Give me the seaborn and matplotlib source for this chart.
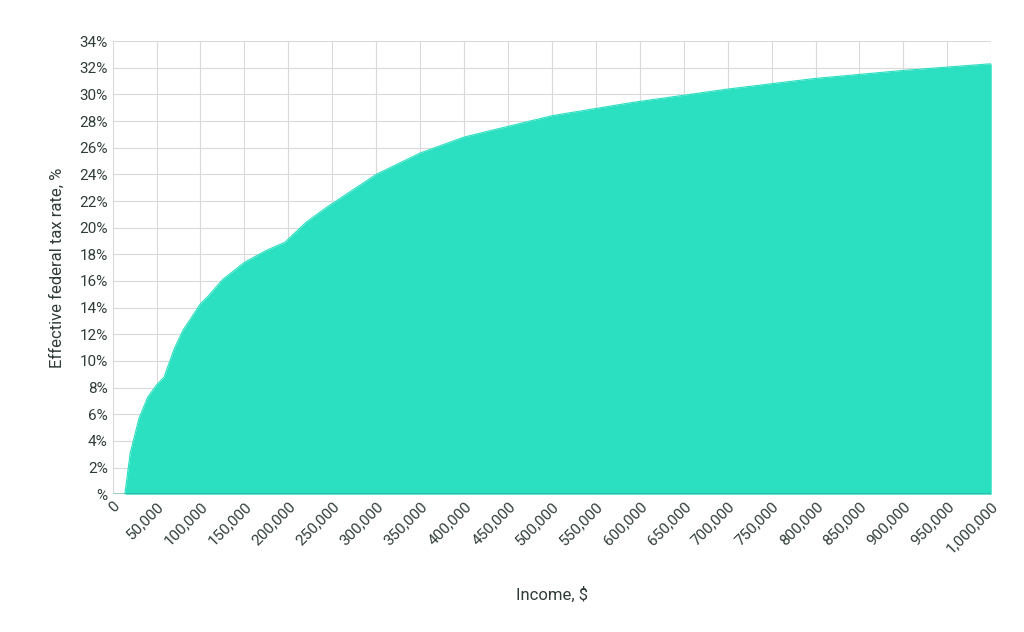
import matplotlib.pyplot as plt
import seaborn as sns
import pandas as pd
from matplotlib.ticker import FuncFormatter

# Values
income = [0, 13850, 20000, 30000, 40000, 50000, 58575, 70000, 80000, 100000,
          109225, 125000, 150000, 175000, 195950, 220000, 245100, 300000,
          350000, 400000, 500000, 591975, 700000, 800000, 900000, 1000000]
rate = [0, 0, 3.1, 5.7, 7.3, 8.2, 8.8, 10.9, 12.3, 14.3,
        14.9, 16.1, 17.4, 18.3, 18.9, 20.4, 21.6, 24.0,
        25.6, 26.8, 28.4, 29.4, 30.4, 31.2, 31.8, 32.3]

df = pd.DataFrame({'income': income, 'rate': rate})

sns.set_style("whitegrid")
plt.rcParams['font.family'] = ['Roboto', 'DejaVu Sans']
txt = '#2f3d36'
fill = '#2ae0c0'

fig = plt.figure(figsize=(10.24, 6.32), dpi=100)
ax = fig.add_axes([0.110, 0.218, 0.858, 0.717])
sns.lineplot(data=df, x='income', y='rate', ax=ax, color=fill, linewidth=0.8)
ax.fill_between(df['income'], df['rate'], color=fill, linewidth=0)

ax.set_xlim(0, 1000000)
ax.set_ylim(0, 34)
ax.set_xticks(range(0, 1000001, 50000))
ax.set_yticks(range(0, 35, 2))
ax.xaxis.set_major_formatter(FuncFormatter(lambda v, p: f'{int(v):,}'))
ax.yaxis.set_major_formatter(FuncFormatter(lambda v, p: f'{int(v)}%' if v else '%'))
ax.tick_params(axis='x', rotation=45, labelsize=11, colors=txt, length=0)
ax.tick_params(axis='y', labelsize=11, colors=txt, length=0)
for lab in ax.get_xticklabels():
    lab.set_ha('right')
    lab.set_rotation_mode('anchor')
ax.grid(color='#d9d9d9', linewidth=0.8)
for s in ax.spines.values():
    s.set_visible(False)
ax.axhline(0, color='#333333', linewidth=1)
ax.set_xlabel('Income, $', fontsize=12, color=txt, labelpad=22)
ax.set_ylabel('Effective federal tax rate, %', fontsize=12, color=txt, labelpad=10)

fig.savefig('out.png', dpi=100)
